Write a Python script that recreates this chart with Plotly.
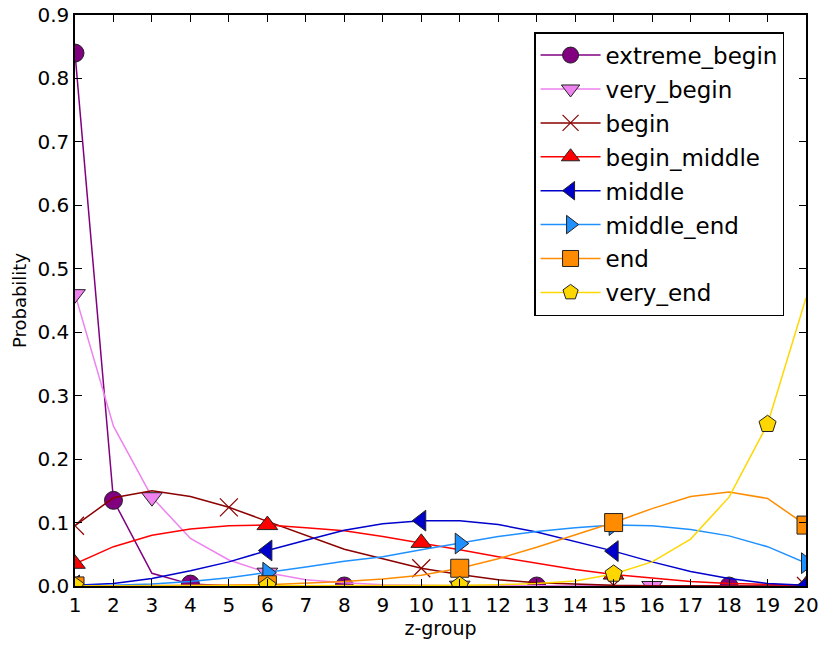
import plotly.graph_objects as go

z = list(range(1, 21))

names = ["extreme_begin", "very_begin", "begin", "begin_middle",
         "middle", "middle_end", "end", "very_end"]

extreme_begin = [0.84, 0.135, 0.02, 0.003, 0.0005, 0.0001, 0, 0, 0, 0,
                 0, 0, 0, 0, 0, 0, 0, 0, 0, 0]
very_begin = [0.46, 0.252, 0.14, 0.075, 0.041, 0.021, 0.01, 0.005, 0.002, 0.001,
              0.0005, 0.0002, 0.0001, 0, 0, 0, 0, 0, 0, 0]
begin = [0.095, 0.139, 0.15, 0.141, 0.124, 0.102, 0.079, 0.058, 0.043, 0.028,
         0.018, 0.01, 0.005, 0.003, 0.001, 0.0005, 0.0002, 0.0001, 0, 0]
begin_middle = [0.035, 0.062, 0.08, 0.09, 0.095, 0.096, 0.092, 0.087, 0.078, 0.068,
                0.057, 0.046, 0.036, 0.026, 0.018, 0.012, 0.007, 0.004, 0.002, 0.001]
middle = [0.001, 0.004, 0.012, 0.024, 0.038, 0.056, 0.072, 0.088, 0.098, 0.103,
          0.103, 0.097, 0.085, 0.07, 0.055, 0.038, 0.023, 0.012, 0.004, 0.001]
middle_end = [0.0005, 0.001, 0.003, 0.007, 0.013, 0.021, 0.03, 0.039, 0.046, 0.057,
              0.067, 0.078, 0.086, 0.092, 0.096, 0.095, 0.089, 0.079, 0.062, 0.036]
end = [0.0001, 0.0002, 0.0004, 0.0008, 0.0015, 0.002, 0.004, 0.007, 0.011, 0.017,
       0.028, 0.043, 0.061, 0.08, 0.1, 0.122, 0.141, 0.148, 0.138, 0.096]
very_end = [0, 0, 0, 0, 0, 0, 0, 0, 0, 0.0005,
            0.001, 0.002, 0.004, 0.008, 0.019, 0.038, 0.074, 0.14, 0.255, 0.454]

series = [extreme_begin, very_begin, begin, begin_middle, middle, middle_end, end, very_end]

# z-groups where each series shows a marker
marked = [
    [1, 2, 4, 8, 13, 18],
    [1, 3, 6, 11, 16],
    [1, 5, 10, 15, 20],
    [1, 6, 10, 15, 20],
    [1, 6, 10, 15, 20],
    [1, 6, 11, 15, 20],
    [1, 6, 11, 15, 20],
    [1, 6, 11, 15, 19],
]

colors = ["#800080", "#EE82EE", "#8B0000", "#FF0000",
          "#0000CD", "#1E90FF", "#FF8C00", "#FFD700"]
symbols = ["circle", "triangle-down", "x-thin", "triangle-up",
           "triangle-left", "triangle-right", "square", "pentagon"]

FONT = "DejaVu Sans"
MS = 18

fig = go.Figure()
for name, vals, marks, col, sym in zip(names, series, marked, colors, symbols):
    is_x = sym == "x-thin"
    sizes = [MS if zz in marks else 0 for zz in z]
    lws = [(1.2 if is_x else 1) if zz in marks else 0 for zz in z]
    fig.add_trace(go.Scatter(
        x=z, y=vals, mode="lines+markers", name=name, legendgroup=name,
        showlegend=False,
        line=dict(color=col, width=1.5),
        marker=dict(symbol=sym, size=sizes, color=col, opacity=1,
                    line=dict(width=lws, color=col if is_x else "#222222")),
        cliponaxis=True,
    ))
    fig.add_trace(go.Scatter(
        x=[None], y=[None], mode="lines+markers", name=name, legendgroup=name,
        showlegend=True,
        line=dict(color=col, width=1.5),
        marker=dict(symbol=sym, size=16, color=col, opacity=1,
                    line=dict(width=1.2 if is_x else 1, color=col if is_x else "#222222")),
    ))

axis_common = dict(
    showline=True, linecolor="black", linewidth=1.5, mirror="allticks",
    ticks="inside", ticklen=7, tickwidth=1, tickcolor="black",
    showgrid=False, zeroline=False,
    tickfont=dict(family=FONT, size=20, color="black"),
)

fig.update_layout(
    width=831, height=651,
    margin=dict(l=75, r=25, t=15, b=65),
    paper_bgcolor="white", plot_bgcolor="white",
    font=dict(family=FONT, color="black"),
    xaxis=dict(range=[1, 20], tickvals=z, ticktext=[str(v) for v in z],
               title=dict(text="z-group", font=dict(family=FONT, size=19), standoff=6),
               automargin=False, **axis_common),
    yaxis=dict(range=[0, 0.9], dtick=0.1, tickformat=".1f",
               title=dict(text="Probability", font=dict(family=FONT, size=18), standoff=6),
               automargin=False, **axis_common),
    legend=dict(x=0.97, y=0.97, xanchor="right", yanchor="top",
                bgcolor="white", bordercolor="black", borderwidth=1.5,
                font=dict(family=FONT, size=23, color="black"),
                traceorder="grouped", tracegroupgap=1, itemwidth=60),
)

fig.write_html("out.html", config={"displayModeBar": False},
               post_script="document.body.style.margin='0';document.body.style.overflow='hidden';")
